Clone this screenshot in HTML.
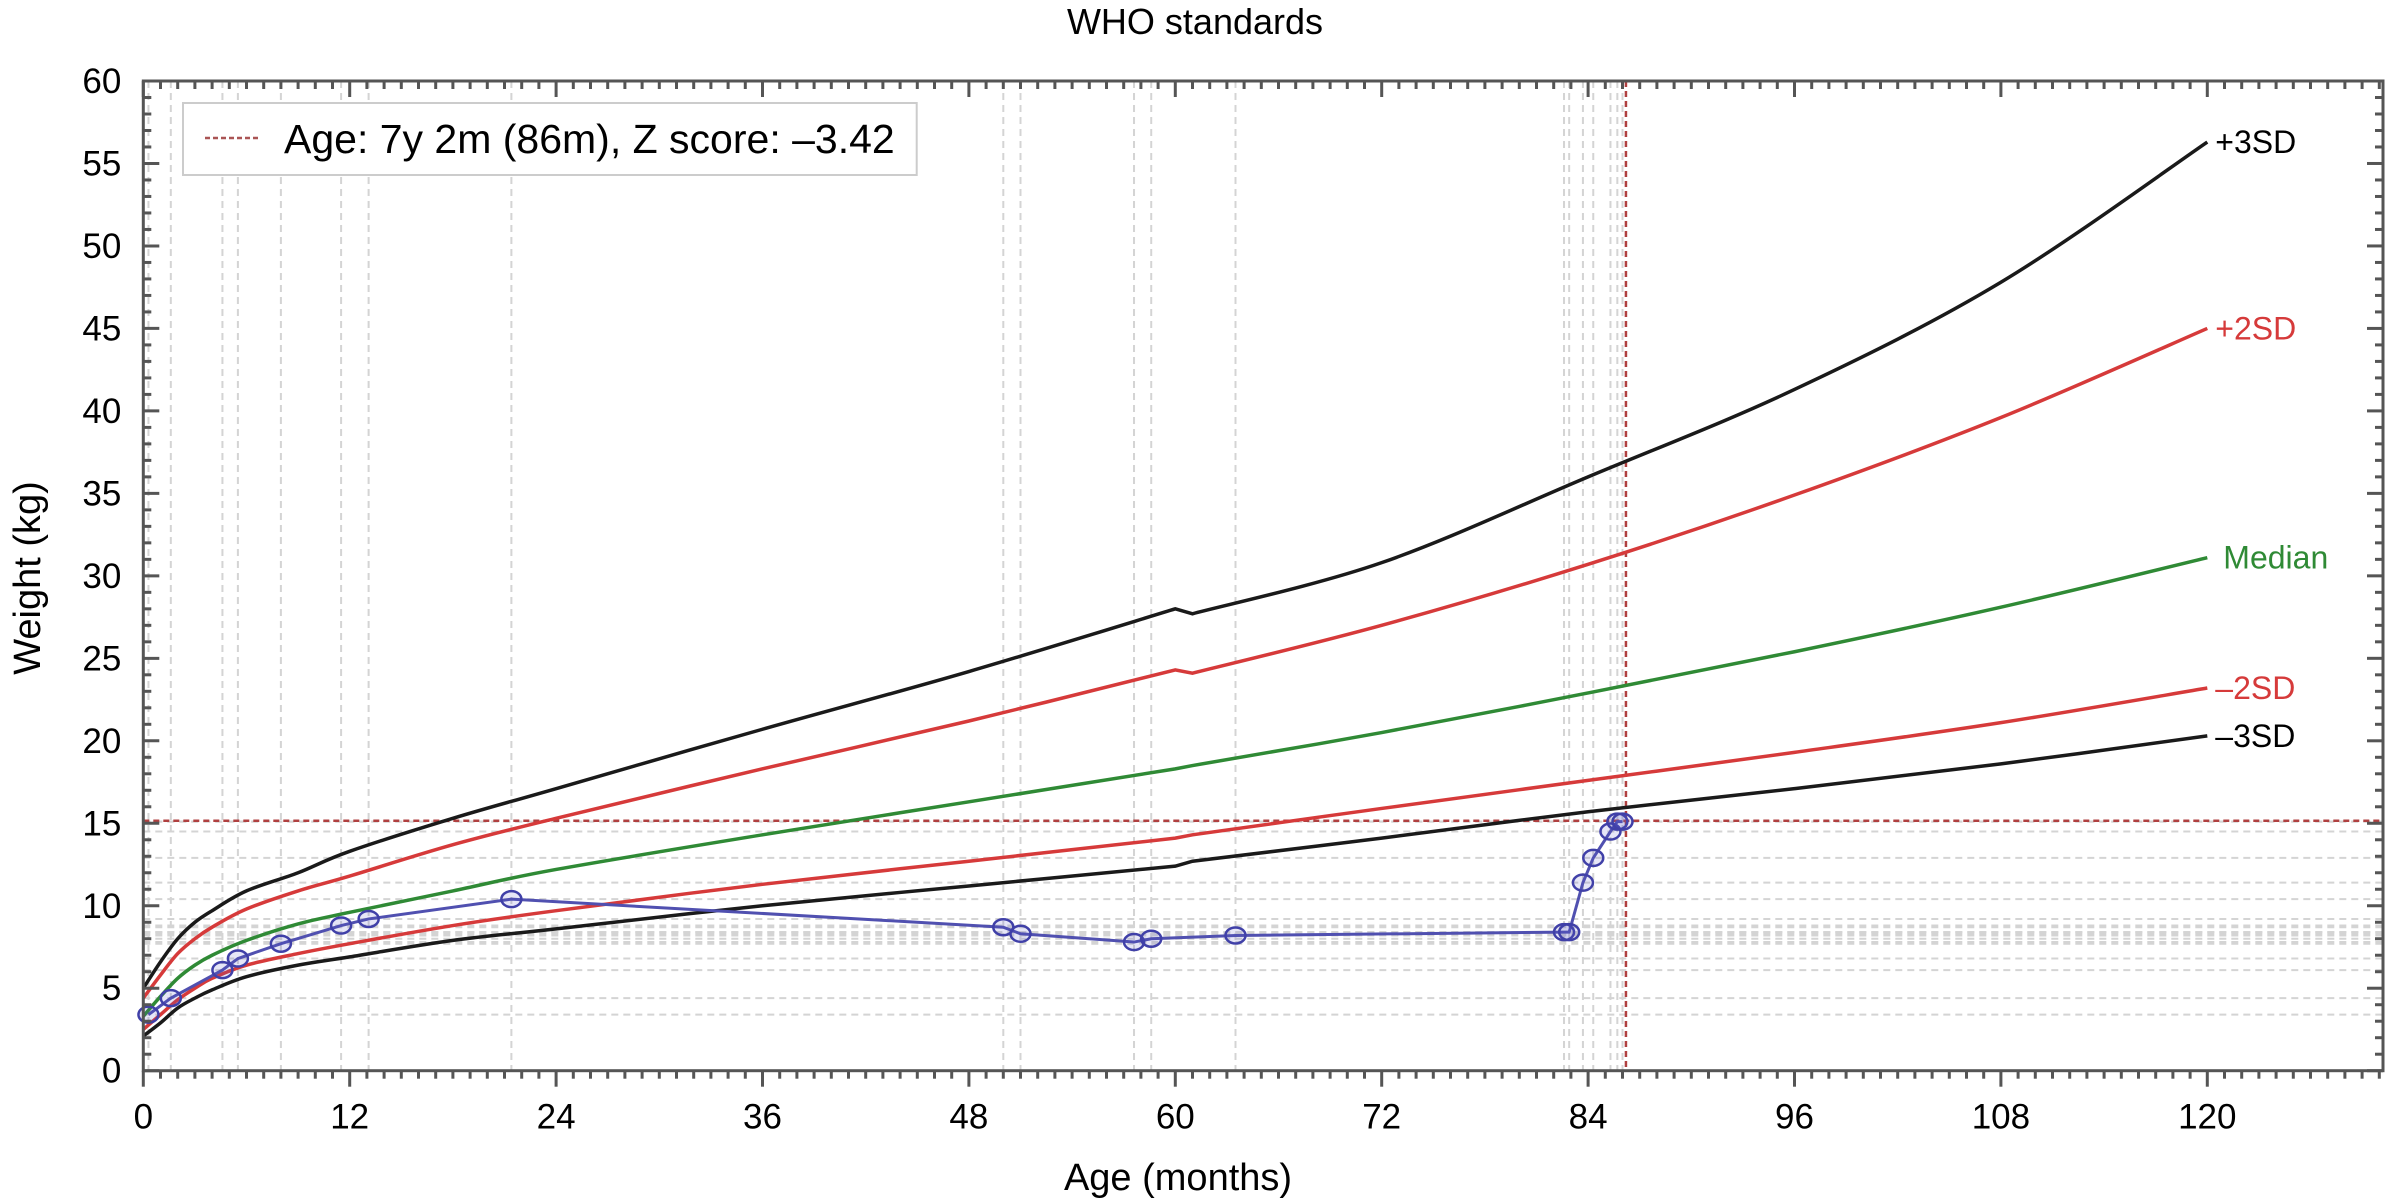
<!DOCTYPE html>
<html><head><meta charset="utf-8"><style>
html,body{margin:0;padding:0;background:#fff}
svg{display:block;font-family:"Liberation Sans",sans-serif}
</style></head><body>
<svg id="chart" width="2390" height="1201" viewBox="0 0 2390 1201" xmlns="http://www.w3.org/2000/svg">
<text x="1195" y="34" font-size="36" text-anchor="middle">WHO standards</text>
<text transform="translate(40,578) rotate(-90)" font-size="38" text-anchor="middle">Weight (kg)</text>
<text x="1178" y="1190" font-size="38" text-anchor="middle">Age (months)</text>
<g id="grid"></g>
<g id="curves"></g>
<g id="patient"></g>
<g id="axes"></g>
<g>
<rect id="legbox" x="183" y="103" width="760" height="72" fill="#fff" stroke="#ccc" stroke-width="2"/>
<line x1="205" y1="138" x2="258" y2="138" stroke="#a55" stroke-width="2.5" stroke-dasharray="5,3"/>
<text id="legtext" x="284" y="153" font-size="41">Age: 7y 2m (86m), Z score: –3.42</text>
</g>
</svg>
<script>
const months = [0,1,2,3,4,6,9,12,18,24,36,48,60,61,72,84,96,108,120];
const sdPlus3 = [5.0,6.6,8.0,9.0,9.7,10.9,12.0,13.3,15.3,17.1,20.7,24.2,28.0,27.7,30.8,36.0,41.3,47.8,56.3];
const sdPlus2 = [4.4,5.8,7.1,8.0,8.7,9.8,10.9,11.8,13.7,15.3,18.3,21.2,24.3,24.1,27.0,30.7,34.9,39.6,45.0];
const median = [3.3,4.5,5.6,6.4,7.0,7.9,8.9,9.6,10.9,12.2,14.3,16.3,18.3,18.5,20.5,22.9,25.4,28.1,31.1];
const sdMinus2 = [2.5,3.4,4.3,5.0,5.6,6.4,7.1,7.7,8.8,9.7,11.3,12.7,14.1,14.3,15.9,17.6,19.3,21.1,23.2];
const sdMinus3 = [2.1,2.9,3.8,4.4,4.9,5.7,6.4,6.9,7.9,8.6,10.0,11.2,12.4,12.7,14.1,15.7,17.1,18.6,20.3];
const curveLabels = ["+3SD","+2SD","Median","–2SD","–3SD"];
const patientAge = [0.3,1.6,4.6,5.5,8.0,11.5,13.1,21.4,50.0,51.0,57.6,58.6,63.5,82.6,82.9,83.7,84.3,85.3,85.7,86.0];
const patientWeight = [3.4,4.4,6.1,6.8,7.7,8.8,9.2,10.4,8.7,8.3,7.8,8.0,8.2,8.4,8.4,11.4,12.9,14.5,15.1,15.1];
const xTicks = [0,12,24,36,48,60,72,84,96,108,120];
const yTicks = [0,5,10,15,20,25,30,35,40,45,50,55,60];
const currentAge = 86.2, currentWeight = 15.15;

const NS="http://www.w3.org/2000/svg";
const L=143.3, R=2383, T=81, B=1070.7;
const X=m=>L+m*17.2, Y=w=>B-(w/60)*(B-T);
function mk(tag,attrs,parent){const e=document.createElementNS(NS,tag);for(const k in attrs)e.setAttribute(k,attrs[k]);parent.appendChild(e);return e;}
const grid=document.getElementById('grid'),curves=document.getElementById('curves'),pat=document.getElementById('patient'),axes=document.getElementById('axes');

patientAge.forEach((a,i)=>{
  const v=mk('line',{x1:X(a),x2:X(a),y1:T,y2:B,stroke:'#d4d4d4','stroke-width':2,'stroke-dasharray':'7,5'},grid);
  
  
  const h=mk('line',{x1:L,x2:R,y1:Y(patientWeight[i]),y2:Y(patientWeight[i]),stroke:'#d4d4d4','stroke-width':2,'stroke-dasharray':'7,5'},grid);
  
  
});
const cv=mk('line',{x1:X(currentAge),x2:X(currentAge),y1:T,y2:B,stroke:'#b04040','stroke-width':2.5,'stroke-dasharray':'6,4'},grid);


const ch=mk('line',{x1:L,x2:R,y1:Y(currentWeight),y2:Y(currentWeight),stroke:'#b04040','stroke-width':2.5,'stroke-dasharray':'6,4'},grid);



function smoothPath(xs,ys){
  const p=xs.map((x,i)=>[X(x),Y(ys[i])]);
  let d=`M${p[0][0]},${p[0][1]}`;
  for(let i=0;i<p.length-1;i++){
    const p0=p[i-1]||p[i],p1=p[i],p2=p[i+1],p3=p[i+2]||p[i+1];
    if(i===12){d+=` L${p2[0]},${p2[1]}`;continue;}
    const q0=(i===13)?p1:p0, q3=(i===11)?p2:p3;
    const c1=[p1[0]+(p2[0]-q0[0])/6,p1[1]+(p2[1]-q0[1])/6];
    const c2=[p2[0]-(q3[0]-p1[0])/6,p2[1]-(q3[1]-p1[1])/6];
    d+=` C${c1[0]},${c1[1]} ${c2[0]},${c2[1]} ${p2[0]},${p2[1]}`;
  }
  return d;
}
const series=[[sdPlus3,'#1a1a1a','plus-3sd'],[sdPlus2,'#d63a3a','plus-2sd'],[median,'#2f8a35','median'],[sdMinus2,'#d63a3a','minus-2sd'],[sdMinus3,'#1a1a1a','minus-3sd']];
series.forEach((s,i)=>{
  const p=mk('path',{d:smoothPath(months,s[0]),fill:'none',stroke:s[1],'stroke-width':3.5},curves);
  
  
  const last=s[0][s[0].length-1];
  const t=mk('text',{x:X(months[months.length-1])+(i===2?16:8),y:Y(last)+11,'font-size':32,fill:s[1]==='#1a1a1a'?'#000':s[1]},curves);
  t.textContent=curveLabels[i];
  
  
});

const pl=mk('polyline',{points:patientAge.map((a,i)=>X(a)+','+Y(patientWeight[i])).join(' '),fill:'none',stroke:'#5050b0','stroke-width':3},pat);


patientAge.forEach((a,i)=>{
  const c=mk('ellipse',{cx:X(a),cy:Y(patientWeight[i]),rx:10,ry:8,fill:'rgba(90,90,200,0.15)',stroke:'#4040a8','stroke-width':2.5},pat);
  
  
});

const fr=mk('rect',{x:L,y:T,width:R-L,height:B-T,fill:'none',stroke:'#555','stroke-width':3},axes);


for(let m=0;m<=130;m++){
  const len=m%12===0?16:8;
  const t1=mk('line',{x1:X(m),x2:X(m),y1:B,y2:B+len,stroke:'#555','stroke-width':3},axes);
  
  
  const t2=mk('line',{x1:X(m),x2:X(m),y1:T,y2:T+len,stroke:'#555','stroke-width':3},axes);
  
  
}
for(let w=0;w<=60;w++){
  const len=w%5===0?16:8;
  const t1=mk('line',{x1:L,x2:L+len,y1:Y(w),y2:Y(w),stroke:'#555','stroke-width':3},axes);
  
  
  const t2=mk('line',{x1:R-len,x2:R,y1:Y(w),y2:Y(w),stroke:'#555','stroke-width':3},axes);
  
  
}
xTicks.forEach(m=>{
  const t=mk('text',{x:X(m),y:B+58,'font-size':35,'text-anchor':'middle'},axes);
  t.textContent=m;
  
  
});
yTicks.forEach(w=>{
  const t=mk('text',{x:L-22,y:Y(w)+12,'font-size':35,'text-anchor':'end'},axes);
  t.textContent=w;
  
  
});
try{const bb=document.getElementById('legtext').getBBox();document.getElementById('legbox').setAttribute('width',bb.x+bb.width+22-183);}catch(e){}
</script>
</body></html>
